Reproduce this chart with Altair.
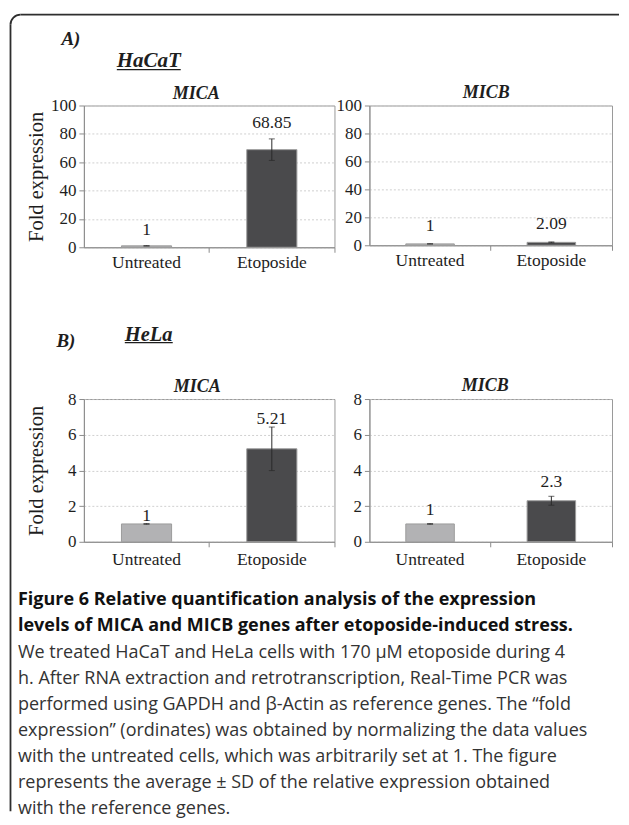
import altair as alt
import pandas as pd

SERIF = "Liberation Serif"
SANS = "Open Sans"
INK = "#1e1e1e"
AXIS_GRAY = "#8c8c8c"
FRAME = "#2e2e2e"

# ---------------- data ----------------
treatments = ["Untreated", "Etoposide"]

hacat_mica_mean = [1, 68.85]
hacat_mica_sd = [0.12, 7.6]
hacat_micb_mean = [1, 2.09]
hacat_micb_sd = [0.12, 0.3]

hela_mica_mean = [1, 5.21]
hela_mica_sd = [0.02, 1.22]
hela_micb_mean = [1, 2.3]
hela_micb_sd = [0.02, 0.25]

yticks_hacat = [0, 20, 40, 60, 80, 100]
yticks_hela = [0, 2, 4, 6, 8]

bar_colors = ["#b2b2b4", "#4a4a4c"]

panel_letters = ["A)", "B)"]
cell_lines = ["HaCaT", "HeLa"]
gene_titles = ["MICA", "MICB"]
y_title = "Fold expression"

caption_lines = [
    "Figure 6 Relative quantification analysis of the expression",
    "levels of MICA and MICB genes after etoposide-induced stress.",
    "We treated HaCaT and HeLa cells with 170 \u00b5M etoposide during 4",
    "h. After RNA extraction and retrotranscription, Real-Time PCR was",
    "performed using GAPDH and \u03b2-Actin as reference genes. The \u201cfold",
    "expression\u201d (ordinates) was obtained by normalizing the data values",
    "with the untreated cells, which was arbitrarily set at 1. The figure",
    "represents the average \u00b1 SD of the relative expression obtained",
    "with the reference genes.",
]
caption_bold = [True, True, False, False, False, False, False, False, False]

one_row = pd.DataFrame({"k": [0]})


def text_layer(txt, x, y, size, align="left", baseline="alphabetic"):
    return alt.Chart(pd.DataFrame({"t": [txt]})).mark_text(
        font=SERIF, fontSize=size, fontStyle="italic", fontWeight="bold",
        color=INK, align=align, baseline=baseline,
    ).encode(x=alt.value(x), y=alt.value(y), text="t:N")


def underline(x1, x2, y):
    return alt.Chart(one_row).mark_rule(color=INK, strokeWidth=1.3).encode(
        x=alt.value(x1), x2=alt.value(x2), y=alt.value(y)
    )


def panel(means, sds, title, width, height, yticks, show_ytitle,
          title_dx, title_offset, label_dy, xlabel_pad):
    df = pd.DataFrame({
        "treatment": treatments,
        "mean": means,
        "sd": sds,
        "label": [f"{m:g}" for m in means],
    })
    xenc = alt.X(
        "treatment:N", sort=treatments,
        scale=alt.Scale(domain=treatments, paddingInner=0.6, paddingOuter=0.3),
        axis=alt.Axis(
            title=None, labelAngle=0, bandPosition=1.75,
            tickSize=5, tickColor=AXIS_GRAY, domainColor=AXIS_GRAY,
            labelPadding=xlabel_pad, grid=False,
        ),
    )
    yaxis_kw = dict(
        values=yticks, grid=True, gridDash=[2, 2], gridColor="#c4c4c4", gridWidth=0.8,
        domainColor=AXIS_GRAY, tickColor=AXIS_GRAY, tickSize=5, labelPadding=3,
    )
    if show_ytitle:
        yaxis_kw.update(
            title=y_title, titleAngle=270, titleX=-47, titleY=height / 2,
            titleAlign="center", titleBaseline="middle",
        )
    else:
        yaxis_kw.update(title=None)
    yaxis = alt.Axis(**yaxis_kw)
    yscale = alt.Scale(domain=[0, yticks[-1]], nice=False, zero=True)

    base = alt.Chart(df).transform_calculate(
        lo="datum.mean - datum.sd", hi="datum.mean + datum.sd"
    ).encode(x=xenc)

    bars = base.mark_bar(stroke="#9c9c9c", strokeWidth=1).encode(
        y=alt.Y("mean:Q", scale=yscale, axis=yaxis),
        color=alt.Color("treatment:N", scale=alt.Scale(domain=treatments, range=bar_colors), legend=None),
    )
    err = base.mark_rule(color="#2a2a2a", strokeWidth=1).encode(
        y=alt.Y("lo:Q", scale=yscale, axis=yaxis), y2="hi:Q"
    )
    cap_hi = base.mark_tick(color="#2a2a2a", thickness=1, size=6).encode(
        y=alt.Y("hi:Q", scale=yscale, axis=yaxis)
    )
    cap_lo = base.mark_tick(color="#2a2a2a", thickness=1, size=6).encode(
        y=alt.Y("lo:Q", scale=yscale, axis=yaxis)
    )
    labels = base.mark_text(
        font=SERIF, fontSize=17.5, color=INK, baseline="middle", dy=-label_dy
    ).encode(y=alt.Y("hi:Q", scale=yscale, axis=yaxis), text="label:N")

    return alt.layer(bars, err, cap_hi, cap_lo, labels).properties(
        width=width, height=height,
        title=alt.TitleParams(
            title, font=SERIF, fontSize=18, fontStyle="italic", fontWeight="bold",
            color=INK, anchor="middle", frame="group", baseline="alphabetic",
            dx=title_dx, offset=title_offset,
        ),
    )


a_mica = panel(hacat_mica_mean, hacat_mica_sd, gene_titles[0], 251, 142, yticks_hacat, True,
               -13, -20, 16, 1)
a_micb = panel(hacat_micb_mean, hacat_micb_sd, gene_titles[1], 243, 140, yticks_hacat, False,
               -4.5, -19.7, 17.5, 1)
b_mica = panel(hela_mica_mean, hela_mica_sd, gene_titles[0], 251, 143, yticks_hela, True,
               -12, -19.5, 8, 4)
b_micb = panel(hela_micb_mean, hela_micb_sd, gene_titles[1], 243, 143, yticks_hela, False,
               -5.5, -18.5, 14, 4)

# ---------- decoration cell: frame, section headers and caption ----------
# (positions are relative to this cell's origin, which sits below panel B)
frame_layers = [
    alt.Chart(one_row).mark_rule(color=FRAME, strokeWidth=1.8).encode(
        x=alt.value(-73.5), y=alt.value(-670), y2=alt.value(118)),
    alt.Chart(one_row).mark_rule(color=FRAME, strokeWidth=1.8).encode(
        x=alt.value(-63.5), x2=alt.value(536), y=alt.value(-680)),
    alt.Chart(one_row).mark_arc(color=FRAME, theta=4.7124, theta2=6.2832, radius=10.9, radius2=9.1).encode(
        x=alt.value(-63.5), y=alt.value(-670)),
]
header_layers = [
    text_layer(panel_letters[0], -13, -655.5, 19, align="center", baseline="middle"),
    text_layer(cell_lines[0], 33, -628, 21),
    underline(33, 97, -625),
    text_layer(panel_letters[1], -18, -353.5, 19, align="center", baseline="middle"),
    text_layer(cell_lines[1], 41, -353.5, 20.5),
    underline(41, 89, -351.5),
]

cap_df = pd.DataFrame({
    "line": list(range(len(caption_lines))),
    "text": caption_lines,
    "bold": caption_bold,
})
cap_base = alt.Chart(cap_df).encode(
    y=alt.Y("line:O", axis=None,
            scale=alt.Scale(paddingInner=0, paddingOuter=0, range=[-106.5, 129])),
    x=alt.value(-66),
    text="text:N",
)
caption_layers = [
    cap_base.transform_filter("datum.bold").mark_text(
        font=SANS, fontSize=18, fontWeight="bold", color="#111", align="left", baseline="middle"),
    cap_base.transform_filter("!datum.bold").mark_text(
        font=SANS, fontSize=18, color="#333", align="left", baseline="middle"),
]

deco = alt.layer(*frame_layers, *header_layers, *caption_layers).properties(
    width=251, height=10, view=alt.ViewBackground(stroke="transparent")
)

chart = alt.concat(
    a_mica, a_micb, b_mica, b_micb, deco,
    columns=2, spacing={"row": 152, "column": 35}, bounds="flush",
).properties(
    padding={"left": 1, "top": 4, "right": 0, "bottom": 0},
    background="white",
).configure_view(
    stroke="#9a9a9a", strokeWidth=1
).configure_axisY(
    labelFont=SERIF, labelFontSize=17, labelColor=INK,
    titleFont=SERIF, titleFontSize=20.5, titleFontWeight="normal", titleColor=INK,
).configure_axisX(
    labelFont=SERIF, labelFontSize=17.5, labelColor=INK,
)

chart.save("out.html", embed_options={"renderer": "svg", "actions": False})
